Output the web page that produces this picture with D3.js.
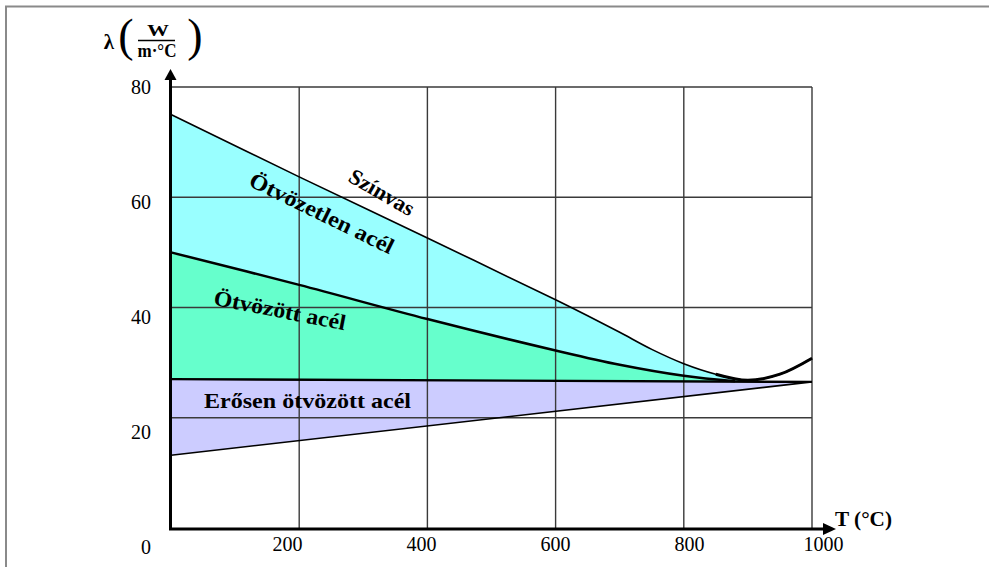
<!DOCTYPE html>
<html>
<head>
<meta charset="utf-8">
<script src="https://cdn.jsdelivr.net/npm/d3@7"></script>
<style>
  body { margin: 0; background: #fff; }
  svg { display: block; }
</style>
</head>
<body>
<svg id="chart" width="989" height="567"></svg>
<script>
// tick labels
var tempTicks = [200, 400, 600, 800, 1000];
var lambdaTicks = [0, 20, 40, 60, 80];

// Színvas (pure iron)
var szinvasT = [0, 200, 400, 600, 650, 700, 750, 800, 850, 900, 950, 1000];
var szinvasL = [75, 63.7, 52.6, 41.4, 38.5, 35.5, 32.4, 29.8, 27.9, 26.8, 27.9, 30.8];

// Ötvözött acél (upper edge of green band)
var otvT = [0, 200, 400, 600, 700, 800, 880];
var otvL = [50, 44.1, 37.9, 32.2, 29.6, 27.6, 26.6];

// Erősen ötvözött acél (purple band, top and bottom)
var erosT = [0, 1000];
var erosTop = [27.0, 26.5];
var erosBottom = [13.2, 26.5];

var svg = d3.select("#chart");

var x = d3.scaleLinear().domain([0, 1000]).range([171, 812]);
var y = d3.scaleLinear().domain([0, 80]).range([528, 87]);
// the labels in the picture sit a bit off the grid
var xLab = d3.scaleLinear().domain([200, 1000]).range([287, 823]);
var yLab = d3.scaleLinear().domain([0, 80]).range([547, 87]);

var hLine = d3.scaleLinear().domain(erosT).range(erosTop);

var szinvas = szinvasT.map(function(t, i) { return { t: t, v: szinvasL[i] }; });
var otv = otvT.map(function(t, i) { return { t: t, v: otvL[i] }; });
var eros = erosT.map(function(t, i) { return { t: t, top: erosTop[i], bot: erosBottom[i] }; });

var curve = d3.curveCatmullRom.alpha(0.5);

// frame
svg.append("path").attr("d", "M6,567V6.5H989")
  .attr("fill", "none").attr("stroke", "#8a8a8a").attr("stroke-width", 2);

// filled bands
var band = d3.area()
  .x(function(d) { return x(d.t); })
  .y0(function(d) { return y(hLine(d.t)); })
  .y1(function(d) { return y(d.v); })
  .curve(curve);

svg.append("path").datum(szinvas.filter(function(d) { return d.t <= 900; }))
  .attr("d", band).attr("fill", "#99ffff");
svg.append("path").datum(otv).attr("d", band).attr("fill", "#66ffcc");
svg.append("path").datum(eros)
  .attr("d", d3.area()
    .x(function(d) { return x(d.t); })
    .y0(function(d) { return y(d.bot); })
    .y1(function(d) { return y(d.top); }))
  .attr("fill", "#ccccff");

// grid
svg.append("g").selectAll("line").data(tempTicks).enter().append("line")
  .attr("x1", function(d) { return x(d); }).attr("x2", function(d) { return x(d); })
  .attr("y1", y(80)).attr("y2", y(0))
  .attr("stroke", "#3a3a3a").attr("stroke-width", 1.4);
svg.append("g").selectAll("line").data(lambdaTicks.slice(1)).enter().append("line")
  .attr("x1", x(0)).attr("x2", x(1000))
  .attr("y1", function(d) { return y(d); }).attr("y2", function(d) { return y(d); })
  .attr("stroke", "#3a3a3a").attr("stroke-width", 1.4);

// curves
var line = d3.line()
  .x(function(d) { return x(d.t); })
  .y(function(d) { return y(d.v); })
  .curve(curve);

svg.append("path").datum(szinvas).attr("d", line)
  .attr("fill", "none").attr("stroke", "#000").attr("stroke-width", 1.6);
svg.append("path").datum(szinvas.filter(function(d) { return d.t >= 850; })).attr("d", line)
  .attr("fill", "none").attr("stroke", "#000").attr("stroke-width", 3);
svg.append("path").datum(otv).attr("d", line)
  .attr("fill", "none").attr("stroke", "#000").attr("stroke-width", 2.5);
svg.append("path").datum(eros.map(function(d) { return { t: d.t, v: d.top }; })).attr("d", line)
  .attr("fill", "none").attr("stroke", "#000").attr("stroke-width", 2.4);
svg.append("path").datum(eros.map(function(d) { return { t: d.t, v: d.bot }; })).attr("d", line)
  .attr("fill", "none").attr("stroke", "#000").attr("stroke-width", 1.6);

// axes with arrows
svg.append("line").attr("x1", x(0) - 0.5).attr("x2", x(0) - 0.5).attr("y1", y(0) + 2).attr("y2", 78)
  .attr("stroke", "#000").attr("stroke-width", 3);
svg.append("path").attr("d", "M" + (x(0) - 0.5) + ",69l6,11h-12z").attr("fill", "#000");
svg.append("line").attr("x1", x(0) - 2).attr("x2", 826).attr("y1", y(0) + 1).attr("y2", y(0) + 1)
  .attr("stroke", "#000").attr("stroke-width", 3);
svg.append("path").attr("d", "M836," + (y(0) + 1) + "l-13,-6v12z").attr("fill", "#000");

// tick labels
var xAxis = svg.append("g").attr("transform", "translate(0,537)")
  .call(d3.axisBottom(xLab).tickValues(tempTicks).tickFormat(d3.format("d")).tickSize(0).tickPadding(0));
var yAxis = svg.append("g").attr("transform", "translate(151,0)")
  .call(d3.axisLeft(yLab).tickValues(lambdaTicks).tickFormat(d3.format("d")).tickSize(0).tickPadding(0));
[xAxis, yAxis].forEach(function(g) {
  g.select(".domain").remove();
  g.selectAll("text").attr("font-family", "'Liberation Serif', serif")
    .attr("font-size", 20).attr("fill", "#000");
});

// axis titles
var serif = "'Liberation Serif', serif";
svg.append("text").attr("x", 109).attr("y", 49).attr("text-anchor", "middle")
  .attr("font-family", serif).attr("font-weight", "bold").attr("font-size", 21).text("λ");
svg.append("text").attr("x", 126).attr("y", 51).attr("text-anchor", "middle")
  .attr("font-family", serif).attr("font-size", 46).text("(");
svg.append("text").attr("x", 195).attr("y", 51).attr("text-anchor", "middle")
  .attr("font-family", serif).attr("font-size", 46).text(")");
svg.append("text").attr("x", 158).attr("y", 36).attr("text-anchor", "middle")
  .attr("textLength", 22).attr("lengthAdjust", "spacingAndGlyphs")
  .attr("font-family", serif).attr("font-weight", "bold").attr("font-size", 17).text("W");
svg.append("line").attr("x1", 138).attr("x2", 175).attr("y1", 40.5).attr("y2", 40.5)
  .attr("stroke", "#000").attr("stroke-width", 1.3);
svg.append("text").attr("x", 157).attr("y", 57).attr("text-anchor", "middle")
  .attr("textLength", 39).attr("lengthAdjust", "spacingAndGlyphs")
  .attr("font-family", serif).attr("font-weight", "bold").attr("font-size", 18).text("m·°C");
svg.append("text").attr("x", 835).attr("y", 526)
  .attr("textLength", 57).attr("lengthAdjust", "spacingAndGlyphs")
  .attr("font-family", serif).attr("font-weight", "bold").attr("font-size", 22).text("T (°C)");

// series labels
var labels = [
  { text: "Színvas", cx: 382, cy: 192, rot: 30, len: 72 },
  { text: "Ötvözetlen acél", cx: 322, cy: 213, rot: 26, len: 158 },
  { text: "Ötvözött acél", cx: 280, cy: 310, rot: 11, len: 134 },
  { text: "Erősen ötvözött acél", cx: 307.5, cy: 400, rot: 0, len: 207 }
];
svg.append("g").selectAll("text").data(labels).enter().append("text")
  .attr("transform", function(d) { return "translate(" + d.cx + "," + d.cy + ") rotate(" + d.rot + ")"; })
  .attr("text-anchor", "middle").attr("dy", "0.35em")
  .attr("textLength", function(d) { return d.len; }).attr("lengthAdjust", "spacingAndGlyphs")
  .attr("font-family", serif).attr("font-weight", "bold").attr("font-size", 22)
  .text(function(d) { return d.text; });
</script>
</body>
</html>
